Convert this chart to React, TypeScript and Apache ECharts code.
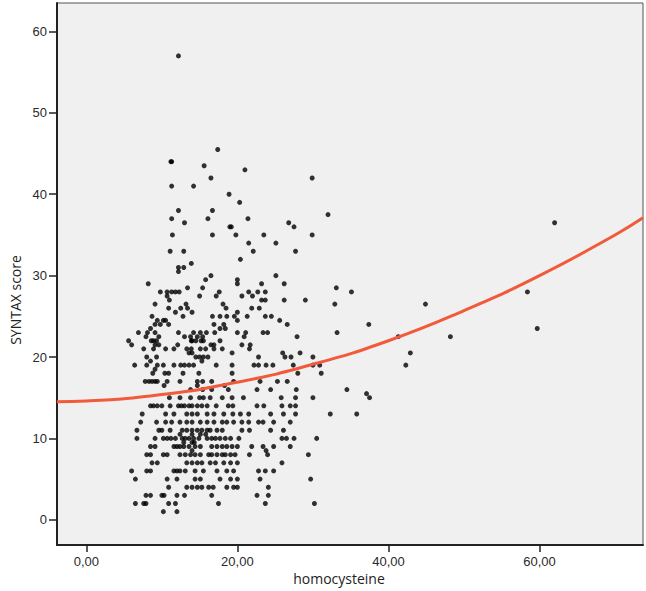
import React, { useEffect, useRef } from "react";
import * as echarts from "echarts";

// homocysteine values observed at each SYNTAX score level
const SCORE_ROWS: Array<[number, number[]]> = [
  [57, [12.2]],
  [45.5, [17.4]],
  [44, [11.2, 11.3]],
  [43.5, [15.6]],
  [43, [21.0]],
  [42, [16.5, 29.9]],
  [41, [11.3, 14.2]],
  [40, [18.9]],
  [39, [20.3]],
  [38, [12.2, 16.7]],
  [37.5, [32.0]],
  [37, [11.3, 16.1, 21.4]],
  [36.5, [13.0, 26.8, 62.0]],
  [36, [19.0, 19.2, 27.5]],
  [35, [11.4, 16.7, 19.8, 23.5, 29.9]],
  [34, [21.5, 25.1]],
  [33, [11.1, 12.9, 22.1, 27.7]],
  [32, [20.4]],
  [31.5, [13.9]],
  [31, [12.2, 12.9]],
  [30.5, [12.2]],
  [30, [16.5, 25.1]],
  [29.5, [15.8, 20.0]],
  [29, [8.2, 20.0, 23.2, 26.2]],
  [28.5, [13.4, 15.4, 33.1]],
  [28, [9.8, 10.7, 11.3, 11.8, 12.3, 17.6, 21.5, 22.7, 23.7, 35.1, 58.4]],
  [27.5, [10.7, 15.0, 17.2, 20.6, 22.0]],
  [27, [11.0, 23.2, 23.7, 26.2, 29.0]],
  [26.5, [9.1, 13.2, 18.1, 32.9, 44.9]],
  [26, [10.9, 12.5, 13.4, 18.5, 21.9, 22.9]],
  [25.5, [11.8, 14.0, 20.0]],
  [25, [8.7, 12.8, 16.7, 17.7, 18.6, 19.6, 21.3, 23.7, 24.5]],
  [24.5, [9.4, 10.2, 10.5, 20.0, 25.6]],
  [24, [9.1, 9.8, 10.9, 16.9, 18.2, 26.6, 37.4]],
  [23.5, [8.5, 17.7, 18.4, 59.7]],
  [23, [6.9, 8.1, 9.1, 12.2, 14.2, 15.1, 15.9, 17.0, 20.0, 21.1, 23.4, 24.0, 33.2]],
  [22.5, [7.9, 9.6, 13.0, 13.8, 14.7, 15.4, 20.9, 27.9, 41.3, 48.2]],
  [22, [5.6, 8.6, 8.9, 9.3, 13.9, 14.0, 14.5, 15.2, 15.5, 17.7]],
  [21.5, [6.0, 9.1, 9.6, 12.1, 16.5, 16.9, 20.6, 21.7]],
  [21, [7.6, 8.9, 10.5, 11.6, 13.3, 13.9, 15.1, 15.8, 16.9, 18.0, 21.6]],
  [20.5, [13.6, 14.0, 19.3, 26.0, 28.3, 42.9]],
  [20, [8.0, 9.3, 14.5, 15.0, 15.5, 16.1, 22.8, 26.3, 27.1, 30.0]],
  [19.5, [8.5, 15.3]],
  [19, [6.4, 8.0, 9.4, 10.2, 11.6, 12.5, 13.0, 13.6, 14.2, 17.2, 19.3, 22.2, 22.8, 23.8, 24.7, 27.4, 30.0, 30.9, 42.3]],
  [18.5, [9.1]],
  [18, [8.8, 10.4, 10.9, 12.8, 14.9, 19.3, 28.0, 31.1]],
  [17, [7.8, 8.3, 8.7, 9.1, 9.4, 10.7, 12.4, 14.7, 15.4, 16.6, 19.5, 23.0, 25.3, 26.6]],
  [16.5, [10.3, 14.7, 18.3]],
  [16, [13.8, 15.4, 16.6, 18.8, 22.6, 24.4, 27.8, 34.5]],
  [15.5, [37.1]],
  [15, [11.0, 12.4, 13.8, 15.0, 15.5, 16.4, 18.0, 19.3, 20.8, 25.8, 27.7, 30.0, 37.5]],
  [14, [8.5, 8.9, 9.4, 10.0, 11.1, 12.2, 12.6, 13.0, 13.6, 14.0, 14.7, 15.3, 16.0, 17.2, 18.8, 19.4, 22.6, 23.5, 25.9, 27.0, 27.7]],
  [13, [7.4, 10.5, 11.6, 13.3, 14.0, 14.7, 16.0, 16.9, 18.2, 19.4, 20.4, 21.5, 24.4, 26.1, 27.7, 32.3, 35.8]],
  [12, [7.2, 9.3, 10.5, 11.3, 12.4, 13.3, 14.0, 15.1, 16.0, 16.9, 18.0, 18.6, 19.5, 20.6, 21.5, 22.8, 23.4, 24.8, 27.0]],
  [11, [6.7, 9.6, 10.0, 11.1, 12.7, 13.3, 14.0, 14.7, 15.3, 16.0, 16.4, 17.3, 18.0, 20.6, 21.6, 24.4, 26.1]],
  [10.5, [12.4, 14.0, 15.1, 15.8]],
  [10, [6.7, 9.1, 10.2, 10.7, 11.2, 11.8, 12.7, 13.1, 13.6, 14.2, 14.9, 16.0, 16.6, 17.1, 17.7, 18.4, 19.1, 20.2, 25.9, 26.5, 27.5, 30.5]],
  [9.5, [12.9, 14.0, 14.3]],
  [9, [8.5, 9.1, 11.6, 12.0, 12.4, 12.9, 13.6, 14.4, 15.1, 16.6, 17.3, 18.0, 18.6, 19.3, 20.0, 21.9, 23.4, 24.8, 27.0]],
  [8.5, [14.0, 23.8]],
  [8, [8.0, 8.5, 10.2, 10.7, 12.4, 13.1, 13.8, 14.4, 15.1, 16.2, 16.6, 17.3, 18.0, 18.4, 19.1, 19.7, 21.6, 24.0, 29.4]],
  [7, [8.7, 9.4, 13.3, 14.0, 14.7, 15.3, 16.4, 17.1, 18.2, 19.1, 20.0, 25.9]],
  [6, [6.0, 8.0, 8.5, 11.6, 12.0, 12.4, 13.1, 14.4, 15.5, 17.3, 18.6, 19.5, 22.8, 23.7, 24.8]],
  [5, [6.5, 10.7, 12.0, 14.4, 15.1, 17.7, 19.1, 20.0, 23.0, 29.7]],
  [4, [10.9, 13.3, 14.0, 14.7, 15.3, 16.2, 16.8, 18.6, 19.5, 20.0, 24.1]],
  [3, [7.9, 8.5, 10.0, 10.3, 12.0, 13.0, 16.6, 22.6, 24.1]],
  [2, [6.5, 7.6, 7.9, 10.9, 11.8, 17.5, 23.7, 30.2]],
  [1, [10.2, 12.0]],
];

// fitted curve
const FIT_X = [-3.9, 0, 10, 20, 30, 40, 50, 60, 70, 73.7];
const FIT_Y = [14.5, 14.6, 15.4, 16.9, 19.1, 22.0, 25.7, 30.0, 35.0, 37.1];

const X_TICKS = [0, 20, 40, 60];
const Y_TICKS = [0, 10, 20, 30, 40, 50, 60];

export default function App() {
  const ref = useRef<HTMLDivElement>(null);

  useEffect(() => {
    if (!ref.current) return;
    const chart = echarts.init(ref.current, null, { renderer: "svg" });
    const points = SCORE_ROWS.flatMap(([s, xs]) => xs.map((x) => [x, s]));
    const fit = FIT_X.map((x, i) => [x, FIT_Y[i]]);
    const labelStyle = {
      color: "#2a2a2a",
      fontFamily: "Liberation Sans, Arial, sans-serif",
      fontSize: 13,
    };
    chart.setOption({
      animation: false,
      grid: {
        left: 57,
        right: 3,
        top: 3,
        bottom: 46,
        show: true,
        backgroundColor: "#f0f0f0",
        borderColor: "#555",
        borderWidth: 1,
      },
      xAxis: {
        type: "value",
        min: -3.88,
        max: 73.7,
        splitLine: { show: false },
        axisLine: { show: true, onZero: false, lineStyle: { color: "#222", width: 2 } },
        axisTick: {
          show: true,
          length: 7,
          customValues: X_TICKS,
          lineStyle: { color: "#222", width: 1.5 },
        },
        axisLabel: {
          ...labelStyle,
          margin: 10,
          customValues: X_TICKS,
          formatter: (v: number) => v.toFixed(2).replace(".", ","),
        },
      },
      yAxis: {
        type: "value",
        min: -3.1,
        max: 63.5,
        splitLine: { show: false },
        axisLine: { show: true, onZero: false, lineStyle: { color: "#222", width: 2 } },
        axisTick: {
          show: true,
          length: 8,
          customValues: Y_TICKS,
          lineStyle: { color: "#222", width: 1.5 },
        },
        axisLabel: {
          ...labelStyle,
          margin: 10,
          customValues: Y_TICKS,
        },
      },
      graphic: [
        {
          type: "text",
          x: 339,
          y: 578,
          style: {
            text: "homocysteine",
            fill: "#222",
            font: "14px 'Open Sans', sans-serif",
            textAlign: "center",
            textVerticalAlign: "middle",
          },
        },
        {
          type: "text",
          x: 15,
          y: 300,
          rotation: Math.PI / 2,
          style: {
            text: "SYNTAX score",
            fill: "#222",
            font: "14px 'Open Sans', sans-serif",
            textAlign: "center",
            textVerticalAlign: "middle",
          },
        },
      ],
      series: [
        {
          type: "scatter",
          data: points,
          symbol: "circle",
          symbolSize: 5,
          itemStyle: { color: "#000" },
          z: 2,
        },
        {
          type: "line",
          data: fit,
          smooth: true,
          showSymbol: false,
          lineStyle: { color: "#f15a3a", width: 3 },
          z: 3,
        },
      ],
    });
    return () => chart.dispose();
  }, []);

  return (
    <div
      ref={ref}
      style={{ position: "fixed", left: 0, top: 0, width: 646, height: 591, background: "#fff" }}
    />
  );
}
